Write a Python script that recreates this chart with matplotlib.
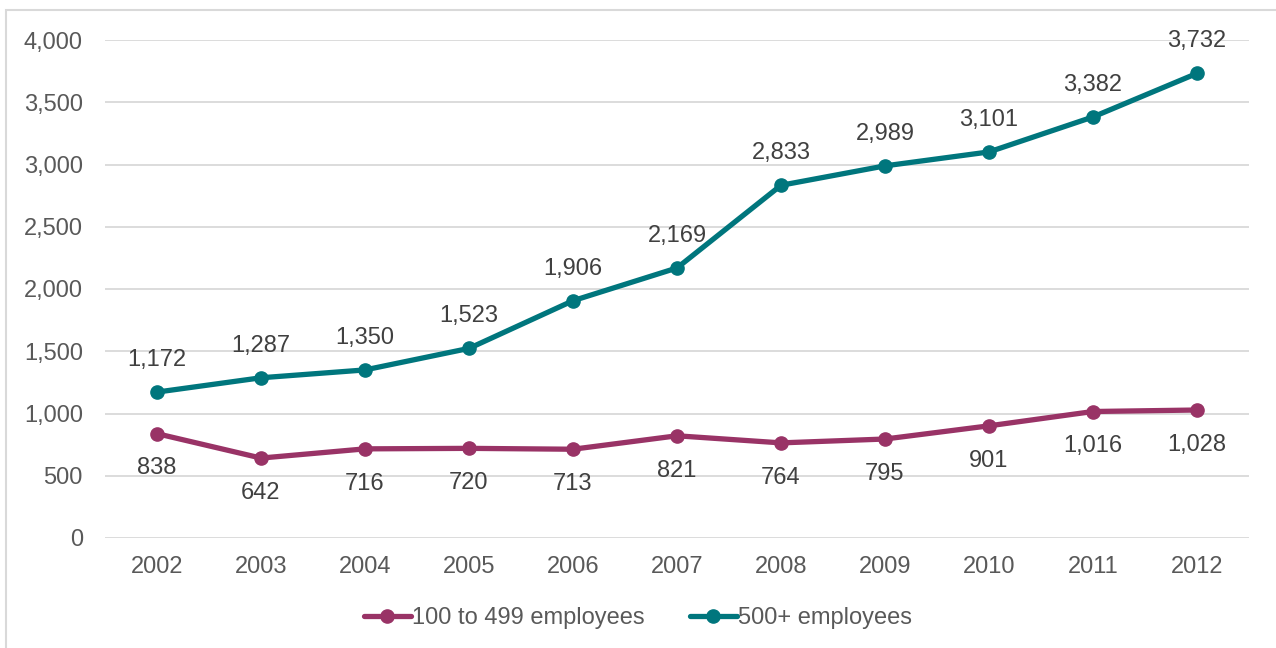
import matplotlib
matplotlib.use("Agg")
import matplotlib.pyplot as plt
from matplotlib.patches import Rectangle

years = ["2002", "2003", "2004", "2005", "2006", "2007", "2008", "2009", "2010", "2011", "2012"]
small = [838, 642, 716, 720, 713, 821, 764, 795, 901, 1016, 1028]
large = [1172, 1287, 1350, 1523, 1906, 2169, 2833, 2989, 3101, 3382, 3732]
series_names = ["100 to 499 employees", "500+ employees"]
colors = ["#993366", "#00767D"]

plt.rcParams['font.family'] = ['Liberation Sans', 'DejaVu Sans']

FS = 17
W, H = 1276, 648
fig = plt.figure(figsize=(W/100, H/100), dpi=100)
ax = fig.add_axes([105/W, 1-538/H, (1249-105)/W, (538-40)/H])

x = list(range(len(years)))
for vals, name, c, above in [(small, series_names[0], colors[0], False), (large, series_names[1], colors[1], True)]:
    ax.plot(x, vals, color=c, lw=3.8, marker='o', ms=9.5, label=name, solid_capstyle='round')
    for xi, v in zip(x, vals):
        ax.annotate(f"{v:,}", (xi, v), xytext=(0, 23 if above else -25), textcoords='offset points',
                    ha='center', va='center', fontsize=FS, color='#404040')

ax.set_xlim(-0.5, len(years)-0.5)
ax.set_ylim(0, 4000)
ax.set_yticks(range(0, 4001, 500))
ax.set_yticklabels([f"{v:,}" for v in range(0, 4001, 500)])
ax.set_xticks(x)
ax.set_xticklabels(years)
ax.tick_params(axis='both', length=0, labelsize=FS, labelcolor='#595959')
ax.tick_params(axis='y', pad=16)
ax.tick_params(axis='x', pad=13)
ax.grid(axis='y', color='#D9D9D9', lw=1.3)
ax.set_axisbelow(True)
for s in ax.spines.values():
    s.set_visible(False)

leg = fig.legend(loc='center', bbox_to_anchor=(0.5, 1-618/H), ncol=2, frameon=False,
                 fontsize=FS, labelcolor='#595959', handlelength=2.0, columnspacing=1.9, handletextpad=0.05)

fig.patches.append(Rectangle((6/W, -0.1), 1.2, 1-10/H+0.1, transform=fig.transFigure,
                             fill=False, edgecolor='#D9D9D9', lw=1.5))

fig.savefig("out.png", dpi=100)
